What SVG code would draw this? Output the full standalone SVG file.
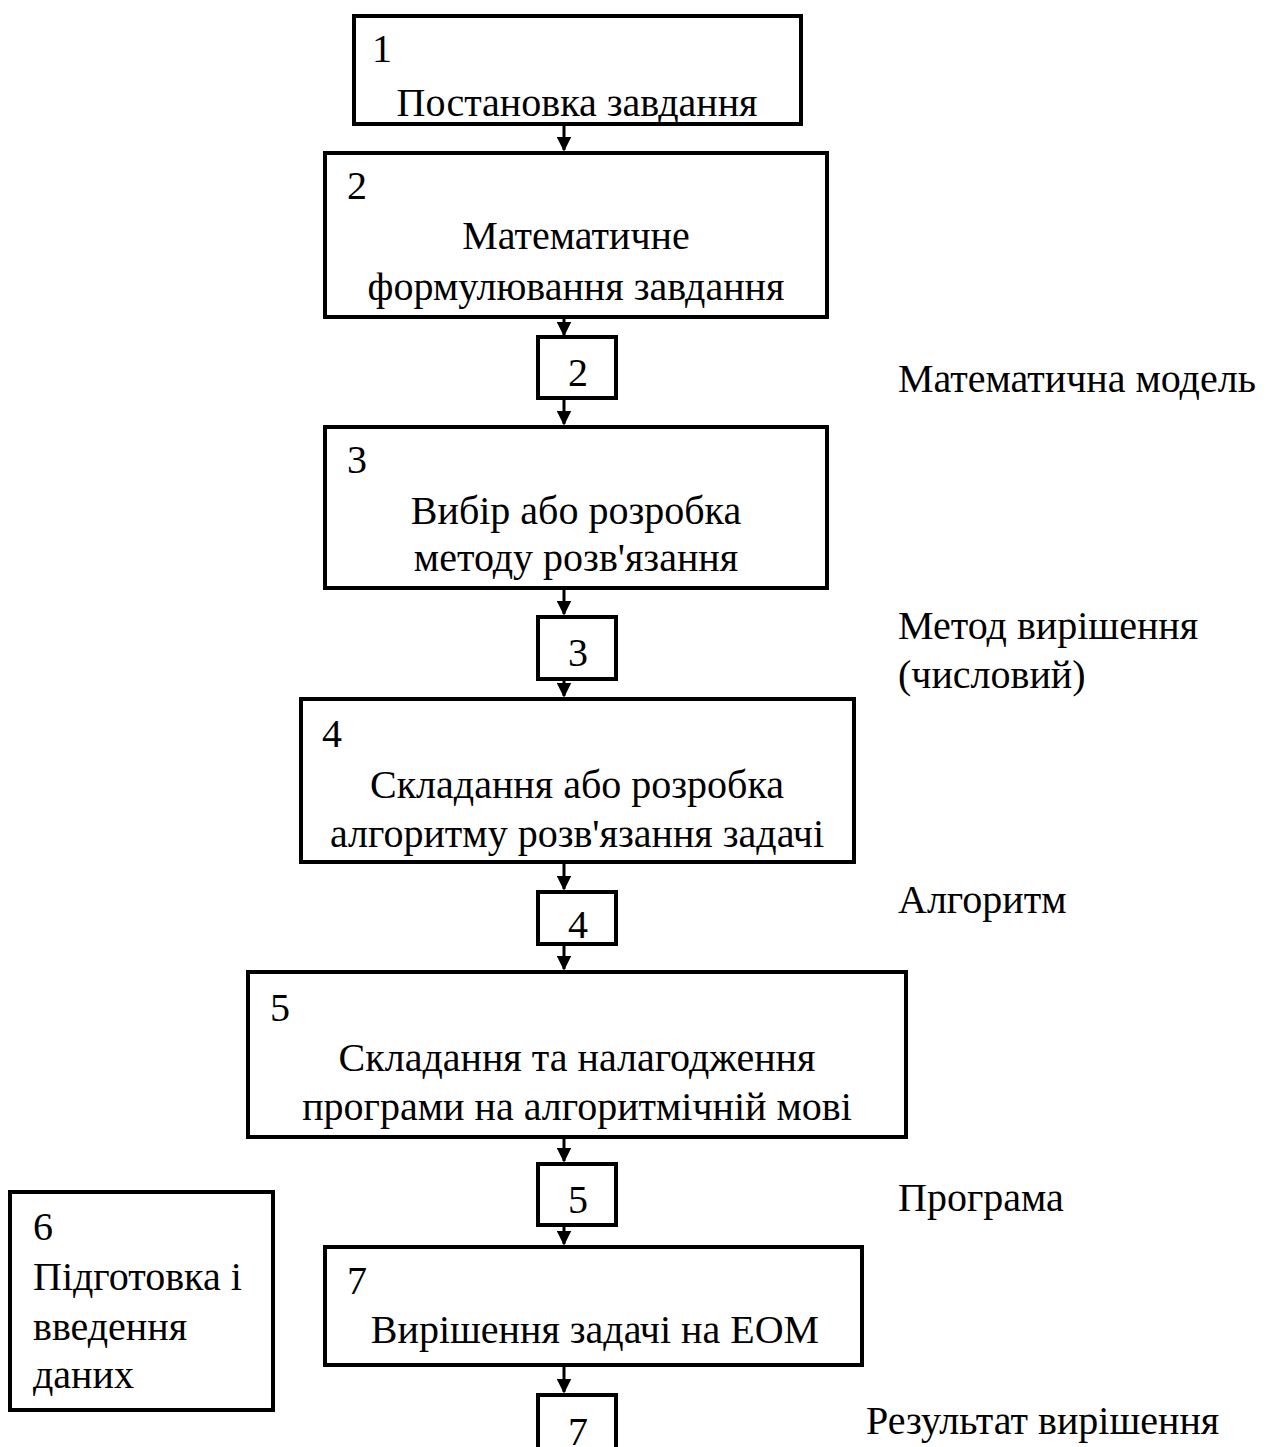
<svg xmlns="http://www.w3.org/2000/svg" width="1272" height="1447" viewBox="0 0 1272 1447">
<style>
.b{fill:#fff;stroke:#000;stroke-width:4}
.t{font-family:"Liberation Serif","Times New Roman","DejaVu Serif",serif;font-size:40px;fill:#000}
.c{text-anchor:middle}
.e{stroke:#000;stroke-width:3;fill:none}
</style>
<defs>
<marker id="ah" markerWidth="5" markerHeight="5" refX="4.5" refY="2.5" orient="auto" markerUnits="strokeWidth">
<path d="M0,0 L5,2.5 L0,5 Z" fill="#000"/>
</marker>
</defs>
<rect width="1272" height="1447" fill="#fff"/>
<g id="connectors">
<line class="e" x1="564" y1="124" x2="564" y2="150" marker-end="url(#ah)"/>
<line class="e" x1="564" y1="317" x2="564" y2="335" marker-end="url(#ah)"/>
<line class="e" x1="564" y1="398" x2="564" y2="424" marker-end="url(#ah)"/>
<line class="e" x1="564" y1="588" x2="564" y2="614" marker-end="url(#ah)"/>
<line class="e" x1="564" y1="670" x2="564" y2="696" marker-end="url(#ah)"/>
<line class="e" x1="564" y1="862" x2="564" y2="889" marker-end="url(#ah)"/>
<line class="e" x1="564" y1="944" x2="564" y2="969" marker-end="url(#ah)"/>
<line class="e" x1="564" y1="1137" x2="564" y2="1161" marker-end="url(#ah)"/>
<line class="e" x1="564" y1="1218" x2="564" y2="1244" marker-end="url(#ah)"/>
<line class="e" x1="564" y1="1365" x2="564" y2="1392" marker-end="url(#ah)"/>
</g>
<g id="n1"><rect class="b" x="354" y="16" width="447" height="108"/>
<text class="t" x="372" y="62">1</text>
<text class="t c" x="577" y="116">Постановка завдання</text></g>
<g id="n2"><rect class="b" x="325" y="153" width="502" height="164"/>
<text class="t" x="347" y="199">2</text>
<text class="t c" x="576" y="249">Математичне</text>
<text class="t c" x="576" y="300">формулювання завдання</text></g>
<g id="m2"><rect class="b" x="538" y="337" width="78" height="61"/>
<text class="t c" x="578" y="386">2</text></g>
<g id="n3"><rect class="b" x="325" y="427" width="502" height="161"/>
<text class="t" x="347" y="473">3</text>
<text class="t c" x="576" y="524">Вибір або розробка</text>
<text class="t c" x="576" y="571">методу розв'язання</text></g>
<g id="m3"><rect class="b" x="538" y="617" width="78" height="62"/>
<text class="t c" x="578" y="666">3</text></g>
<g id="n4"><rect class="b" x="301" y="699" width="553" height="163"/>
<text class="t" x="322" y="747">4</text>
<text class="t c" x="577" y="798">Складання або розробка</text>
<text class="t c" x="577" y="847">алгоритму розв'язання задачі</text></g>
<g id="m4"><rect class="b" x="538" y="892" width="78" height="52"/>
<text class="t c" x="578" y="938">4</text></g>
<g id="n5"><rect class="b" x="248" y="972" width="658" height="165"/>
<text class="t" x="270" y="1021">5</text>
<text class="t c" x="577" y="1071">Складання та налагодження</text>
<text class="t c" x="577" y="1120">програми на алгоритмічній мові</text></g>
<g id="m5"><rect class="b" x="538" y="1164" width="78" height="61"/>
<text class="t c" x="578" y="1213">5</text></g>
<g id="n7"><rect class="b" x="325" y="1247" width="537" height="118"/>
<text class="t" x="347" y="1294">7</text>
<text class="t c" x="595" y="1343">Вирішення задачі на ЕОМ</text></g>
<g id="m7"><rect class="b" x="538" y="1395" width="78" height="60"/>
<text class="t c" x="578" y="1445">7</text></g>
<g id="n6"><rect class="b" x="10" y="1192" width="263" height="218"/>
<text class="t" x="33" y="1240">6</text>
<text class="t" x="33" y="1290">Підготовка і</text>
<text class="t" x="33" y="1340">введення</text>
<text class="t" x="33" y="1388">даних</text></g>
<g id="labels">
<text class="t" x="898" y="392">Математична модель</text>
<text class="t" x="898" y="639">Метод вирішення</text>
<text class="t" x="898" y="688">(числовий)</text>
<text class="t" x="898" y="913">Алгоритм</text>
<text class="t" x="898" y="1211">Програма</text>
<text class="t" x="866" y="1434">Результат вирішення</text>
</g>
</svg>
